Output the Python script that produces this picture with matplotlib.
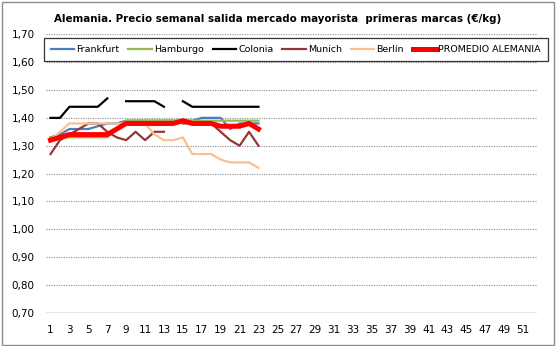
import numpy as np
import matplotlib.pyplot as plt
from matplotlib.patches import Rectangle
from matplotlib.ticker import FuncFormatter

nan = np.nan

# semanas del año (eje de categorías)
semanas = np.arange(1, 53)

frankfurt = [1.33, 1.34, 1.36, 1.36, 1.36, 1.37, 1.38, 1.38, 1.39, 1.39, 1.39, 1.39,
             1.39, 1.39, 1.39, 1.39, 1.40, 1.40, 1.40, 1.36, 1.38, 1.38, 1.38]
hamburgo = [1.33, 1.33, 1.33, 1.33, 1.33, 1.33, 1.33, 1.36, 1.39, 1.39, 1.39, 1.39,
            1.39, 1.39, 1.39, 1.39, 1.39, 1.39, 1.39, 1.39, 1.39, 1.39, 1.39]
colonia = [1.40, 1.40, 1.44, 1.44, 1.44, 1.44, 1.47, nan, 1.46, 1.46, 1.46, 1.46,
           1.44, nan, 1.46, 1.44, 1.44, 1.44, 1.44, 1.44, 1.44, 1.44, 1.44]
munich = [1.27, 1.32, 1.34, 1.36, 1.38, 1.38, 1.35, 1.33, 1.32, 1.35, 1.32, 1.35,
          1.35, nan, 1.38, 1.38, 1.38, 1.38, 1.35, 1.32, 1.30, 1.35, 1.30]
berlin = [1.32, 1.35, 1.38, 1.38, 1.38, 1.38, 1.38, 1.38, 1.38, 1.38, 1.38, 1.34,
          1.32, 1.32, 1.33, 1.27, 1.27, 1.27, 1.25, 1.24, 1.24, 1.24, 1.22]
promedio = [1.32, 1.33, 1.34, 1.34, 1.34, 1.34, 1.34, 1.36, 1.38, 1.38, 1.38, 1.38,
            1.38, 1.38, 1.39, 1.38, 1.38, 1.38, 1.37, 1.37, 1.37, 1.38, 1.36]

series = [
    ("Frankfurt", frankfurt, "#4a7ebb", 1.6),
    ("Hamburgo", hamburgo, "#98b954", 1.6),
    ("Colonia", colonia, "#000000", 1.6),
    ("Munich", munich, "#953735", 1.6),
    ("Berlín", berlin, "#fac090", 1.6),
    ("PROMEDIO ALEMANIA", promedio, "#ff0000", 3.6),
]

plt.rcParams['font.family'] = ['DejaVu Sans']

fig = plt.figure(figsize=(5.56, 3.46), dpi=100)
ax = fig.add_axes([0.0824, 0.0968, 0.884, 0.8035])

for nombre, valores, color, lw in series:
    v = np.full(len(semanas), nan)
    v[:len(valores)] = valores
    ax.plot(semanas, v, color=color, lw=lw, label=nombre, solid_joinstyle='round')

ax.set_xlim(0.5, 52.5)
ax.set_ylim(0.70, 1.70)
ax.set_yticks(np.arange(0.70, 1.71, 0.10))
ax.yaxis.set_major_formatter(FuncFormatter(lambda v, p: f"{v:.2f}".replace('.', ',')))
ax.set_xticks(semanas[::2])

# rejilla punteada y eje inferior
for y in np.arange(0.80, 1.71, 0.10):
    ax.axhline(y, color='#8c8c8c', lw=0.8, ls=(0, (1, 1.2)), zorder=0)
ax.axhline(0.70, color='#808080', lw=1.0, zorder=0)

for s in ax.spines.values():
    s.set_visible(False)
ax.tick_params(axis='both', length=0, labelsize=7.5, colors='black')
ax.tick_params(axis='x', pad=9)
ax.tick_params(axis='y', pad=8)

fig.text(0.5, 0.945, "Alemania. Precio semanal salida mercado mayorista  primeras marcas (€/kg)",
         ha='center', va='center', fontsize=7.4, fontweight='bold')

leg = fig.legend(loc='center', bbox_to_anchor=(0.532, 0.857), ncol=6, fontsize=6.8,
                 handlelength=2.5, handletextpad=0.2, columnspacing=0.95,
                 frameon=True, fancybox=False, borderpad=0.75, borderaxespad=0)
leg.get_frame().set_edgecolor('black')
leg.get_frame().set_linewidth(0.9)

# borde del área del gráfico
fig.patches.append(Rectangle((0.003, 0.004), 0.993, 0.991, transform=fig.transFigure,
                             fill=False, edgecolor='#8c8c8c', lw=1.0))

fig.savefig('out.png', dpi=100)
